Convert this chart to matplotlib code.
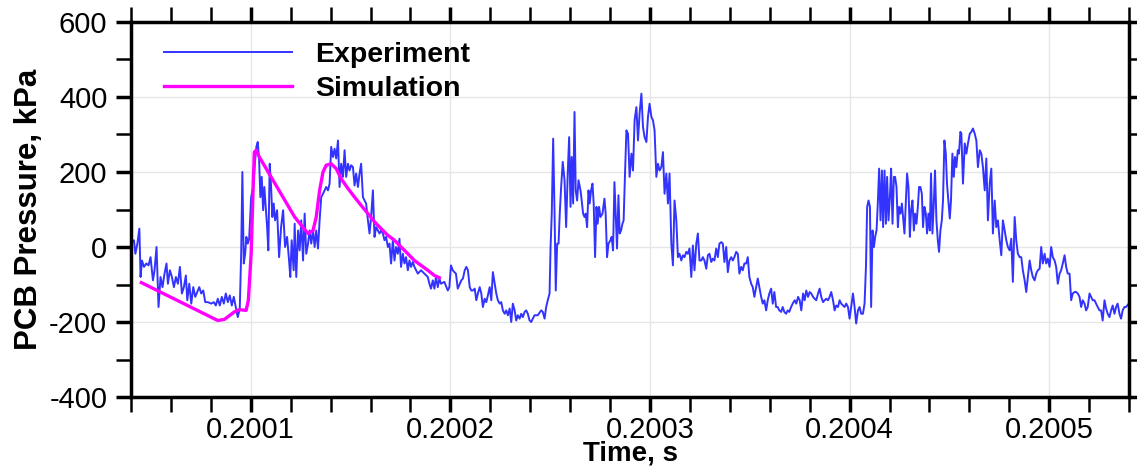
import matplotlib
matplotlib.use("Agg")
import matplotlib.pyplot as plt
from matplotlib.ticker import FixedLocator, MultipleLocator, FuncFormatter
import numpy as np

# time is given in microseconds after t = 0.2 s, pressure in kPa
exp_us = [
    40.2, 41.5, 42.2, 43.2, 44.2, 44.8, 45.5, 46.5, 47.7, 48.8, 49.8, 51.0, 51.8, 52.8, 53.8, 54.8,
    55.8, 56.8, 57.8, 58.5, 59.5, 60.5, 61.5, 62.5, 63.5, 64.5, 65.5, 66.5, 67.5, 68.2, 69.2, 70.2,
    71.2, 72.2, 73.2, 74.2, 75.2, 76.2, 77.2, 78.5, 80.2, 81.5, 82.5, 83.5, 84.5, 85.5, 86.5, 87.5,
    88.5, 89.5, 90.5, 91.5, 92.5, 93.5, 94.5, 95.2, 95.8, 96.5, 97.2, 97.8, 98.5, 99.2, 100.2, 101.2,
    102.2, 102.8, 103.5, 104.2, 104.8, 105.5, 106.2, 106.8, 107.5, 108.2, 108.8, 109.5, 110.2, 110.8,
    111.5, 112.2, 113.2, 114.2, 115.2, 116.2, 117.2, 118.2, 119.2, 119.8, 120.5, 121.5,
    122.0, 122.8, 123.7, 124.5, 125.3, 126.2, 127.0, 127.8, 128.7, 129.5, 130.3, 131.2, 132.0, 132.8,
    133.7, 134.5, 135.3, 136.2, 137.0, 137.8, 138.7, 139.5, 140.3, 141.2, 142.0, 142.8, 143.7, 144.5,
    145.3, 146.2, 147.0, 147.8, 148.7, 149.5, 150.3, 151.2, 152.0, 152.8, 153.7, 154.5, 155.3, 156.2,
    157.0, 157.8, 158.7, 159.5, 160.3, 161.2, 162.0, 162.8, 163.7, 164.5, 165.3, 166.2, 167.0, 167.8,
    168.7, 169.5, 170.3, 171.2, 172.0, 172.8, 173.7, 174.5, 175.3, 176.2, 177.0, 177.8, 178.7, 179.5,
    180.3, 181.2, 182.0, 183.7, 185.3, 187.0, 188.7, 189.5, 190.3, 191.2, 192.0, 192.8, 193.7, 194.5,
    195.3, 197.0, 198.7, 199.5, 200.3, 201.2, 202.0, 202.8, 203.7,
    205.5, 206.3, 207.2, 208.0, 208.8, 209.7, 210.5, 211.3, 212.2, 213.0, 213.8, 214.7, 215.5, 216.3,
    217.2, 218.0, 218.8, 219.7, 220.5, 221.3, 222.2, 223.0, 223.8, 224.7, 225.5, 226.3, 227.2, 228.0,
    228.8, 229.7, 230.5, 231.3, 232.2, 233.0, 233.8, 234.7, 235.5, 236.3, 237.2, 238.0, 238.8, 239.7,
    240.5, 241.3, 242.2, 243.8, 245.5, 246.3, 247.2, 248.0, 248.8, 249.7, 250.2, 250.8, 251.5, 252.2,
    252.8, 253.5, 254.2, 254.8, 255.5, 256.3, 257.2, 258.0, 258.8, 259.5, 260.2, 260.8, 261.5, 262.2,
    262.8, 263.5, 264.2, 265.2, 265.8, 266.5, 267.2, 267.8, 268.5, 269.2, 269.8, 270.5, 271.2, 271.8,
    272.5, 273.2, 273.8, 274.5, 275.2, 276.2, 277.2, 277.8, 278.5, 279.2, 280.2, 280.8, 281.5, 282.2,
    282.8, 283.5, 284.2, 284.8, 285.5, 286.2, 286.8, 287.5, 288.2,
    289.0, 289.8, 290.7, 291.5, 292.3, 293.2, 294.0, 294.8, 295.7, 296.5, 297.3, 298.2, 299.0, 299.8,
    300.7, 301.5, 302.3, 303.2, 304.0, 304.8, 305.7, 306.5, 307.3, 308.2, 309.0, 309.8, 310.7, 311.5,
    312.3, 313.2, 314.0, 314.8, 315.7, 316.5, 317.3, 318.2, 319.0, 319.8, 320.7, 321.5, 322.3, 323.2,
    324.0, 324.8, 325.7, 326.5, 327.3, 328.2, 329.0, 329.8, 330.7, 331.5, 332.3, 333.2, 334.0, 334.8,
    335.7, 336.5, 337.3, 338.2, 339.0, 339.8, 340.7, 341.5, 342.3, 343.2, 344.0, 344.8, 345.7, 346.5,
    347.3, 348.2, 349.0, 349.8, 350.7, 351.5, 352.3, 353.2, 354.0, 354.8, 355.7, 356.5, 357.3, 358.2,
    359.0, 359.8, 360.7, 361.5, 362.3, 363.2, 364.0, 364.8, 365.7, 366.5, 367.3, 368.2, 369.0, 369.8,
    370.7, 371.5,
    372.5, 373.3, 374.2, 375.0, 375.8, 376.7, 377.5, 378.3, 379.2, 380.0, 380.8, 381.7, 382.5, 383.3,
    384.2, 385.0, 385.8, 386.7, 387.5, 388.3, 389.2, 390.0, 390.8, 391.7, 392.5, 393.3, 394.2, 395.0,
    395.8, 396.7, 397.5, 398.3, 399.2, 400.0, 400.8, 401.7, 402.5, 403.3, 404.2, 405.0, 405.8, 406.7,
    407.5, 408.2, 408.8, 409.5, 410.2, 410.8, 411.5, 412.2, 412.8, 413.5, 414.2, 414.8, 415.5, 416.2,
    416.8, 417.5, 418.2, 418.8, 419.5, 420.2, 420.8, 421.5, 422.2, 422.8, 423.5, 424.2, 424.8, 425.5,
    426.2, 426.8, 427.5, 428.2, 428.8, 429.5, 430.2, 430.8, 431.5, 432.2, 432.8, 433.5, 434.2, 434.8,
    435.5, 436.2, 436.8, 437.5, 438.2, 438.8, 439.5, 440.2, 440.8, 441.5, 442.2, 442.8, 443.5, 444.2,
    444.8, 445.5, 446.2, 446.8, 447.5, 448.2, 448.8, 449.5, 450.2, 450.8, 451.5, 452.2, 452.8, 453.5,
    454.2, 454.8, 455.5,
    456.0, 456.8, 457.7, 458.5, 459.3, 460.2, 461.0, 461.8, 462.7, 463.5, 464.3, 465.2, 466.0, 466.8,
    467.7, 468.5, 469.3, 470.2, 471.0, 471.8, 472.7, 473.5, 474.3, 475.2, 476.0, 476.8, 477.7, 478.5,
    479.3, 480.2, 481.0, 481.8, 482.7, 483.5, 484.3, 485.2, 486.0, 486.8, 487.7, 488.5, 489.3, 490.2,
    491.0, 491.8, 492.7, 493.5, 494.3, 495.2, 496.0, 496.8, 497.7, 498.5, 499.3, 500.2, 501.0, 501.8,
    502.7, 503.5, 504.3, 505.2, 506.0, 506.8, 507.7, 508.5, 509.3, 510.2, 511.0, 511.8, 512.7, 513.5,
    514.3, 515.2, 516.0, 516.8, 517.7, 518.5, 519.3, 520.2, 521.0, 521.8, 522.7, 523.5, 524.3, 525.2,
    526.0, 526.8, 527.7, 528.5, 529.3, 530.2, 531.0, 531.8, 532.7, 533.5, 534.3, 535.2, 536.0, 536.8,
    537.7, 538.5, 540.0,
]
exp_kpa = [
    10, 18, -18, 9, 49, -80, -36, -53, -44, -49, -27, -89, -62, 0, -160, -80,
    -107, -71, -44, -98, -62, -80, -107, -80, -98, -53, -124, -107, -76, -142, -98, -151,
    -107, -133, -120, -107, -124, -116, -147, -147, -151, -147, -156, -138, -156, -133, -151, -124,
    -147, -129, -156, -133, -160, -187, -164, -18, 200, -44, -18, 27, 9, 22, 133, 160,
    231, 267, 280, 231, 133, 187, 98, 160, 107, 53, -9, 222, 160, 80,
    116, 71, 98, -27, 53, 98, 0, 27, -36, -80, 18, -62,
    62, -80, 44, -9, 71, -36, 89, -18, 9, 44, 9, 44, 0, 44,
    -4, 71, 133, 142, 151, 160, 151, 169, 267, 240, 262, 236, 284, 160,
    222, 187, 258, 187, 222, 204, 218, 213, 164, 196, 160, 196, 222, 133,
    124, 116, 71, 36, 80, 151, 27, 53, 44, 36, 44, 36, 18, 27,
    0, 9, -44, 18, -36, 0, -18, 22, -53, -18, -44, -27, -62, -36,
    -53, -40, -53, -71, -62, -71, -80, -98, -111, -89, -111, -80, -107, -84,
    -98, -93, -116, -107, -49, -62, -67, -71, -111,
    -89, -84, -62, -53, -62, -107, -116, -116, -111, -142, -124, -107, -124, -160,
    -138, -147, -129, -107, -142, -67, -98, -124, -142, -151, -147, -169, -178, -169,
    -182, -164, -200, -151, -169, -196, -182, -191, -178, -187, -173, -169, -178, -196,
    -200, -191, -182, -182, -169, -173, -191, -160, -142, -124, 0, 89, 289, 89,
    -116, 9, 9, 89, 160, 227, 178, 53, 196, 293, 107, 240, 116, 360,
    151, 124, 178, 151, 124, 89, 80, 89, 53, 151, 116, 151, 169, 116,
    -27, 107, 62, 107, 80, 89, 129, 89, -27, 9, 18, 27, -9, 173,
    89, -4, 138, 36, 44, 62, 71, 196, 311,
    302, 187, 249, 204, 338, 373, 284, 356, 409, 320, 293, 280, 347, 382,
    347, 338, 311, 187, 222, 204, 213, 253, 142, 196, 116, 196, 9, -49,
    124, 71, -27, -18, -36, -22, -27, -13, -18, -4, -80, 4, -62, 9,
    36, -36, -36, -27, -36, -58, -22, -18, -40, -31, -36, -4, -27, 9,
    13, 9, -40, 0, -67, -36, -27, -36, -27, -13, -18, -71, -53, -62,
    -44, -44, -27, -80, -98, -107, -133, -107, -84, -107, -133, -151, -142, -169,
    -142, -124, -111, -151, -120, -160, -160, -169, -173, -160, -173, -178, -169, -173,
    -160, -151,
    -142, -151, -133, -142, -169, -124, -142, -116, -133, -120, -124, -133, -138, -142,
    -124, -111, -133, -147, -142, -138, -142, -133, -120, -142, -169, -156, -160, -142,
    -151, -156, -160, -151, -160, -191, -160, -124, -160, -204, -169, -160, -178, -178,
    -151, -53, 107, 124, 107, -160, 44, 0, 27, 44, 124, 209, 71, 204,
    53, 204, 62, 187, 71, 133, 209, 62, 187, 187, 160, 53, 107, 89,
    116, 80, 36, 124, 196, 160, 27, 98, 124, 44, 89, 62, 107, 160,
    160, 142, 53, 107, 89, 36, 89, 44, 196, 36, 116, 204, 71, 18,
    -13, 44, 71, 124, 284, 249, 169, 124, 76, 124, 249, 187, 240, 213,
    258, 249, 307,
    302, 169, 276, 249, 276, 302, 307, 316, 302, 284, 213, 258, 249, 213,
    151, 236, 71, 169, 209, 36, 124, 53, 71, 18, -22, 71, 44, 18,
    0, -9, 22, -93, 80, 18, -18, -27, -27, -62, -89, -120, -80, -36,
    -62, -80, -89, -71, -62, -58, 0, -44, -18, -44, -31, -53, 0, -27,
    -36, -53, -98, -71, -62, -44, -22, -53, -71, -71, -142, -124, -120, -120,
    -124, -133, -160, -142, -151, -169, -160, -124, -133, -142, -142, -151, -160, -169,
    -169, -196, -142, -164, -178, -187, -169, -156, -178, -160, -151, -178, -191, -169,
    -160, -160, -150,
]

sim_us = [45.2, 83.5, 86.8, 91.8, 94.3, 97.7, 98.8, 100.2, 101.2, 101.8, 102.7, 104.3,
          122.0, 125.3, 128.7, 131.2, 132.8, 134.5, 136.2, 137.8, 140.3, 142.8, 145.3,
          148.7, 152.0, 155.3, 158.7, 162.0, 165.3, 168.7, 172.0, 175.3, 178.7, 182.0,
          185.3, 188.7, 192.0, 194.5]
sim_kpa = [-95, -196, -193, -173, -167, -169, -142, -18, 160, 253, 258, 240,
           80, 58, 36, 44, 80, 151, 200, 218, 222, 209, 182,
           156, 133, 111, 89, 67, 49, 31, 18, 0, -18, -36,
           -49, -62, -76, -82]

x_ticks = [0.2001, 0.2002, 0.2003, 0.2004, 0.2005]

plt.rcParams['font.family'] = ['Liberation Sans', 'DejaVu Sans']
plt.rcParams['axes.unicode_minus'] = False

t_exp = 0.2 + np.array(exp_us) * 1e-6
t_sim = 0.2 + np.array(sim_us) * 1e-6

fig = plt.figure(figsize=(11.37, 4.68), dpi=100)
ax = fig.add_axes([0.1152, 0.1517, 0.8778, 0.8013])

ax.plot(t_exp, exp_kpa, color='#3333ff', lw=1.4, label='Experiment')
ax.plot(t_sim, sim_kpa, color='#ff00ff', lw=2.4, label='Simulation')

ax.set_xlim(0.20004, 0.20054)
ax.set_ylim(-400, 600)
ax.xaxis.set_major_locator(FixedLocator(x_ticks))
ax.xaxis.set_minor_locator(MultipleLocator(0.00002))
ax.xaxis.set_major_formatter(FuncFormatter(lambda v, p: '%.4f' % v))
ax.yaxis.set_major_locator(MultipleLocator(200))
ax.yaxis.set_minor_locator(MultipleLocator(100))

ax.grid(True, which='major', color='#e6e6e6', lw=1.0)
ax.set_axisbelow(True)
for s in ax.spines.values():
    s.set_linewidth(2.5)
ax.tick_params(which='both', direction='out', top=True, right=True, labelsize=21, pad=6)
ax.tick_params(axis='x', which='both', pad=3)
ax.tick_params(which='major', length=11, width=2.5)
ax.tick_params(which='minor', length=11, width=1.8)

ax.set_xlabel('Time, s', fontsize=20, fontweight='bold', labelpad=-3)
ax.set_ylabel('PCB Pressure, kPa', fontsize=22.5, fontweight='bold', labelpad=4)

leg = ax.legend(loc='upper left', bbox_to_anchor=(0.022, 0.978), frameon=False,
                fontsize=20.5, handlelength=4.5, handletextpad=0.8, labelspacing=0.3,
                borderaxespad=0)
for txt in leg.get_texts():
    txt.set_fontweight('bold')

fig.savefig('out.png', dpi=100)
